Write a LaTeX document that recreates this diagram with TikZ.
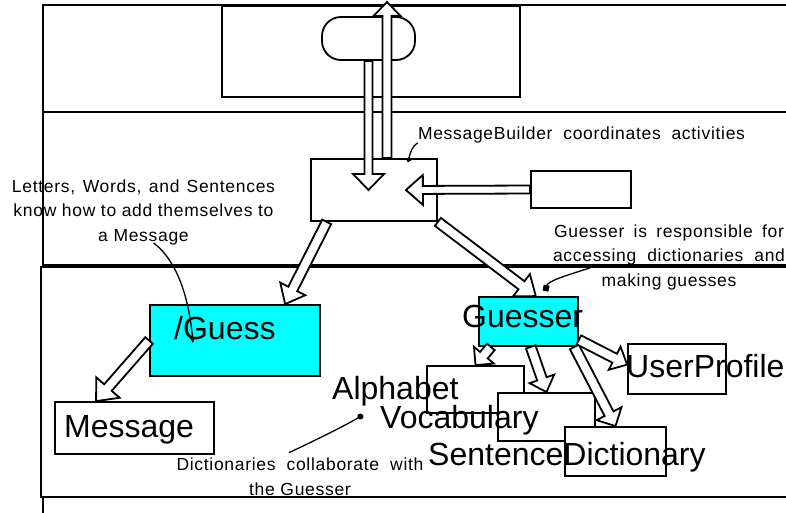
\documentclass[tikz,border=0pt]{standalone}
\usepackage{fontspec}
\setmainfont{Liberation Sans}
\newfontfamily\notefamily[LetterSpace=4]{Liberation Sans}
\usetikzlibrary{arrows.meta,calc,positioning}

\definecolor{aqua}{RGB}{0,255,255}
\newcommand{\bigtext}{\fontsize{32}{36}\selectfont}
\newcommand{\notetext}{\notefamily\fontsize{17.5}{24.5}\selectfont}
\newcommand{\jline}[2]{\makebox[#1pt][s]{#2}}

\begin{document}
\begin{tikzpicture}[x=1pt, y=-1pt,
    lane/.style={draw, line width=1.8pt},
    box/.style={draw, line width=1.8pt, fill=white, inner sep=0pt},
    cls/.style={box, fill=aqua},
    big/.style={anchor=base west, inner sep=0pt, font=\bigtext},
    note/.style={anchor=base, inner sep=0pt, font=\notetext, align=center},
    link/.style={line width=1.3pt},
    hollow/.style n args={3}{draw, fill=white, line width=1.8pt, line join=miter,
      to path={
        ($(\tikztotarget)!#3!(\tikztostart)$) coordinate (hb)
        ($(\tikztostart)!#1!90:(\tikztotarget)$)
        -- ($(hb)!#1!-90:(\tikztostart)$)
        -- ($(hb)!#2!-90:(\tikztostart)$)
        -- (\tikztotarget)
        -- ($(hb)!#2!90:(\tikztostart)$)
        -- ($(hb)!#1!90:(\tikztostart)$)
        -- ($(\tikztostart)!#1!-90:(\tikztotarget)$) -- cycle}}
]
\useasboundingbox (0,0) rectangle (786,512);
\clip (0,0) rectangle (786,512);

% swimlanes
\draw[lane] (43,5) rectangle (795,112);
\draw[lane] (43,112) rectangle (795,265);
\draw[lane] (41,267) rectangle (795,497);
\draw[lane] (43,497) rectangle (795,520);

\node[box, minimum width=298, minimum height=91, anchor=north west] (panel) at (221,5) {};
\node[box, rounded corners=19pt, minimum width=93, minimum height=43] (ui) at (368.5,38.5) {};

\node[box, minimum width=126, minimum height=62] (mb) at (374,190) {};
\node[box, minimum width=100, minimum height=37] (input) at (581,189.5) {};
\coordinate (exit) at (387,2);
\coordinate (mbhit) at ($(mb.east)+(-32,0)$);

\node[cls, minimum width=170, minimum height=71] (guess) at (235,340.5) {};
\node[box, minimum width=159, minimum height=52] (msg) at (134.5,428) {};
\node[cls, minimum width=99, minimum height=49] (guesser) at (528.5,321.5) {};
\node[box, minimum width=98, minimum height=50] (profile) at (677,369) {};
\node[box, minimum width=97, minimum height=47] (alpha) at (475.5,389.5) {};
\node[box, minimum width=97, minimum height=48] (vocab) at (546.5,417) {};
\node[box, minimum width=101, minimum height=49] (dict) at (615.5,451.5) {};

\draw[hollow={4pt}{15.5pt}{16pt}] (ui.south) to (ui.south |- mb.center);
\draw[hollow={4.5pt}{13.5pt}{14pt}] (exit |- mb.north) to (exit);
\draw[hollow={4pt}{15pt}{17pt}] (input.west) to (mbhit);
\draw[hollow={5pt}{14pt}{17pt}] (mb.-146) to (guess.36);
\draw[hollow={5pt}{14pt}{18pt}] (mb.south east) to (guesser.74);
\draw[hollow={5pt}{15.5pt}{18pt}] (guess.west) to (msg.145);
\draw[hollow={5pt}{13pt}{13pt}] (guesser.-146) to (alpha.north);
\draw[hollow={5pt}{13pt}{14pt}] (guesser.-85) to (vocab.north);
\draw[hollow={5pt}{14pt}{14pt}] (guesser.-29.4) to (dict.north);
\draw[hollow={5pt}{13pt}{14pt}] (guesser.-20) to (profile.175);

\node[big] (guesslbl) at (174,339) {/Guess};
\node[big] (msglbl) at (64,437) {Message};
\node[big] (guesserlbl) at (462,327) {Guesser};
\node[big] (profilelbl) at (626,377) {UserProfile};
\node[big] (alphalbl) at (332,399) {Alphabet};
\node[big] (vocablbl) at (380,428) {Vocabulary};
\node[big] (dictlbl) at (428,465) {SentenceDictionary};

\node[note] (mbnote) at (581.5,139) {\jline{327}{MessageBuilder coordinates activities}};
\node[note] (lnote) at (143.5,241) {\jline{263}{Letters, Words, and Sentences}\\
  \jline{260}{know how to add themselves to}\\ a Message};
\node[note] (gnote) at (669,286) {\jline{230}{Guesser is responsible for}\\
  \jline{232}{accessing dictionaries and}\\ making guesses};
\node[note] (dnote) at (300,495) {\jline{247}{Dictionaries collaborate with}\\ the Guesser};

\draw[link, -{Circle[length=5pt]}] (mbnote.south west) .. controls +(-6,3) and +(2,-8) .. ($(mb.north)+(34,4)$);
\draw[link, -{Latex[length=6pt,width=6pt]}] ($(lnote.south)+(10,-2)$) .. controls +(25,19) and +(-4,-43) .. ($(guess.west)+(44,3)$);
\draw[link, -{Square[length=6pt]}] ($(gnote.west)+(37,11)$) .. controls +(-25,8) and +(2,-10) .. ($(guesser.north)+(17,-5)$);
\draw[link, -{Circle[length=6pt]}] ($(dnote.north)+(-11,-5)$) .. controls +(30,-14) and +(-17,10) .. ($(vocablbl.base west)+(-17,-13)$);
\end{tikzpicture}
\end{document}
